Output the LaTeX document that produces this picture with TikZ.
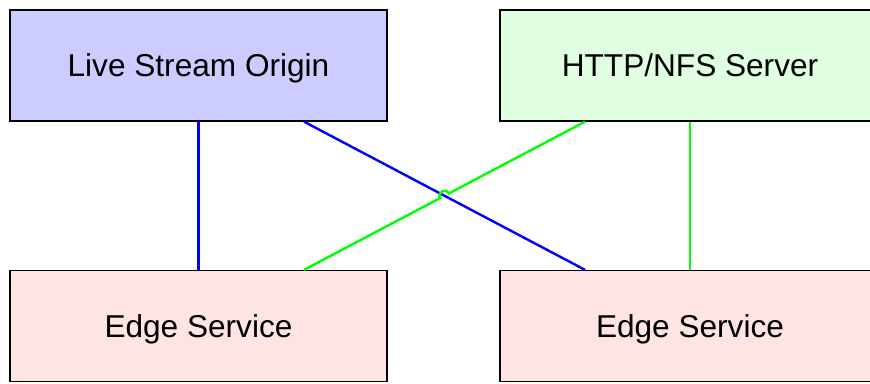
\documentclass[tikz,border=0pt]{standalone}
\usepackage{fontspec}
\setmainfont{Liberation Sans}
\usetikzlibrary{calc}
\definecolor{origincol}{RGB}{204,204,255}
\definecolor{servercol}{RGB}{224,255,224}
\definecolor{edgecol}{RGB}{255,228,228}
\definecolor{wireblue}{RGB}{0,0,255}
\definecolor{wiregreen}{RGB}{0,255,0}
\begin{document}
\begin{tikzpicture}[x=1pt,y=-1pt,
  box/.style={draw=black, line width=1.3pt, minimum width=377pt, minimum height=111pt,
    inner sep=0pt, text height=22.6pt, text depth=0pt,
    font=\fontsize{31.6}{38}\selectfont, anchor=center},
  wbox/.style={box, minimum width=380pt},
  wire/.style={line width=2.4pt}]
\useasboundingbox (0,0) rectangle (870,383);
\begin{scope}
\clip (0,0) rectangle (870,383);
\node[box, fill=origincol] (A) at (198.5,65.5) {Live Stream Origin};
\node[wbox, fill=servercol] (B) at (690,65.5) {HTTP/NFS Server};
\node[box, fill=edgecol] (C) at (198.5,326) {Edge Service};
\node[wbox, fill=edgecol] (D) at (690,326) {Edge Service};

\coordinate (b1) at ($(A.south)+(105.5,0)$);
\coordinate (b2) at ($(D.north)+(-105,0)$);
\coordinate (g1) at ($(B.south)+(-105,0)$);
\coordinate (g2) at ($(C.north)+(105.5,0)$);
\coordinate (X) at ($(g1)!0.5!(g2)$);
\coordinate (J1) at ($(X)!5pt!(g1)$);
\coordinate (J2) at ($(X)!5pt!(g2)$);

\draw[wire, wireblue] (A.south) -- (C.north);
\draw[wire, wireblue] (b1) -- (b2);
\draw[wire, wiregreen] (B.south) -- (D.north);
\draw[wire, wiregreen] (g1) -- (J1)
  .. controls ($(J1)+(-3.12,-5.89)$) and ($(J2)+(-3.12,-5.89)$) .. (J2) -- (g2);
\end{scope}
\end{tikzpicture}
\end{document}
